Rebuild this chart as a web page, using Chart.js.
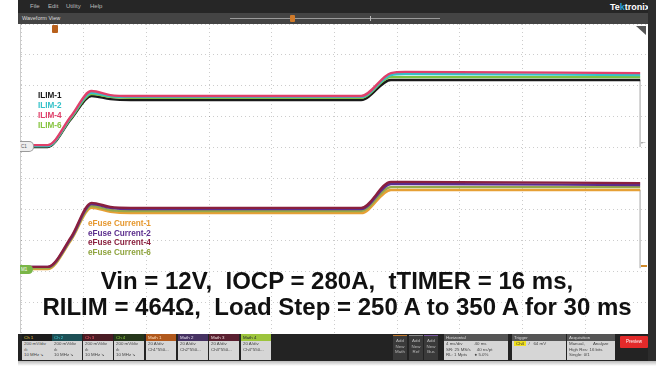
<!DOCTYPE html>
<html>
<head>
<meta charset="utf-8">
<script src="https://cdn.jsdelivr.net/npm/chart.js@4"></script>
<style>
  body { margin:0; width:656px; height:366px; background:#fff; position:relative; overflow:hidden;
         font-family:"Liberation Sans", Arial, sans-serif; }
  .abs { position:absolute; }
  #menubar { left:18px; top:0; width:638px; height:13px; background:#262626; color:#bbb; font-size:6px; }
  #menubar span { position:absolute; top:3px; }
  #wfbar { left:18px; top:13px; width:630px; height:11px; background:#444; color:#ddd; font-size:5.5px; }
  #plotbox { left:20px; top:24px; width:628px; height:309px; background:#fff; border-left:1px solid #ccc; box-sizing:border-box; }
  #rightbar { left:648px; top:0; width:8px; height:362px; background:#2c2c2c; }
  #status { left:18px; top:334px; width:630px; height:27px; background:#232323; }
  #shadow { left:18px; top:361px; width:638px; height:5px; background:linear-gradient(#bbb,#fff); }
  .lbl { position:absolute; font-weight:bold; font-size:8.2px; white-space:nowrap; line-height:9px; }
  #note { left:0; width:674px; top:268px; text-align:center; font-weight:bold; font-size:24px;
          line-height:25.5px; color:#111; white-space:pre; }
  .box { position:absolute; top:334px; height:26px; width:30px; font-size:4.4px; }
  .box .hd { height:7px; line-height:7px; padding-left:2px; }
  .box .bd { height:19px; background:#d6d6d6; color:#444; padding-left:2px; line-height:5.5px; }
</style>
</head>
<body>
<div id="menubar" class="abs">
  <span style="left:12px">File</span><span style="left:30px">Edit</span>
  <span style="left:48px">Utility</span><span style="left:72px">Help</span>
  <span style="left:592px;top:2px;font-size:9px;font-weight:bold;color:#fff">Te<span style="position:static;color:#2aa3d8">k</span>tronix</span>
</div>
<div id="wfbar" class="abs">
  <span style="position:absolute;left:4px;top:2px">Waveform View</span>
  <div class="abs" style="left:212px;top:5px;width:210px;height:1px;background:#9a9a9a"></div>
  <div class="abs" style="left:272px;top:2px;width:5px;height:7px;background:#d07a2a;border-radius:1px"></div>
  <div class="abs" style="left:352px;top:3px;width:1px;height:5px;background:#bbb"></div>
</div>
<div id="rightbar" class="abs"></div>
<div id="plotbox" class="abs"><canvas id="scope" width="627" height="309"></canvas></div>

<!-- markers on the plot -->
<div class="abs" style="left:52px;top:25px;width:6px;height:8px;background:#b8601c;border-radius:1px"></div>
<div class="abs" style="left:636px;top:26px;width:0;height:0;border-left:10px solid transparent;border-top:9px solid #555"></div>
<div class="abs" style="left:20px;top:141px;width:12px;height:9px;background:#eee;border:1px solid #9a9a9a;border-left:none;border-radius:0 5px 5px 0;font-size:4.5px;line-height:9px;color:#555;padding-left:1px">C1</div>
<div class="abs" style="left:20px;top:265px;width:12px;height:9px;background:#7ab648;border-radius:0 5px 5px 0;font-size:4.5px;line-height:9px;color:#fff;padding-left:1px">M1</div>
<div class="abs" style="left:640px;top:138px;font-size:7px;color:#333">&#8592;</div>
<div class="abs" style="left:641px;top:265px;width:6px;height:2px;background:#d08a2a"></div>

<div class="lbl" style="left:38px;top:91px;color:#1a1a1a">ILIM-1</div>
<div class="lbl" style="left:38px;top:101px;color:#35c2c9">ILIM-2</div>
<div class="lbl" style="left:38px;top:111px;color:#e0406a">ILIM-4</div>
<div class="lbl" style="left:38px;top:121px;color:#86c440">ILIM-6</div>

<div class="lbl" style="left:88px;top:219px;color:#e6982e">eFuse Current-1</div>
<div class="lbl" style="left:88px;top:229px;color:#5b2e8e">eFuse Current-2</div>
<div class="lbl" style="left:88px;top:238px;color:#8a1f3e">eFuse Current-4</div>
<div class="lbl" style="left:88px;top:248px;color:#8fa43e">eFuse Current-6</div>

<div id="note" class="abs">Vin = 12V,  IOCP = 280A,  tTIMER = 16 ms,
RILIM = 464Ω,  Load Step = 250 A to 350 A for 30 ms</div>

<div id="status" class="abs"></div>
<div id="shadow" class="abs"></div>
<div id="boxes"></div>

<script>
// time axis in ms (4 ms/div, 10 div), vertical in divisions from the bottom of the screen
const timeMs = [0, 1.7, 3.2, 4.5, 5.7, 7.0, 21.7, 23.6, 24.5, 39.5];

// ILIM traces (top group)
const ilim1 = [6.02, 6.02, 6.93, 7.67, 7.57, 7.54, 7.54, 8.19, 8.19, 8.19];
const ilim2 = [6.05, 6.05, 6.99, 7.77, 7.67, 7.64, 7.64, 8.35, 8.38, 8.35];
const ilim4 = [6.08, 6.08, 7.02, 7.83, 7.70, 7.67, 7.67, 8.41, 8.45, 8.41];
const ilim6 = [6.05, 6.05, 6.96, 7.73, 7.64, 7.61, 7.61, 8.28, 8.28, 8.28];

// eFuse current traces (bottom group)
const efuse1 = [2.07, 2.07, 3.01, 4.05, 3.92, 3.88, 3.88, 4.63, 4.63, 4.63];
const efuse2 = [2.14, 2.14, 3.07, 4.17, 4.05, 4.01, 4.01, 4.82, 4.82, 4.79];
const efuse4 = [2.14, 2.14, 3.11, 4.21, 4.08, 4.05, 4.05, 4.89, 4.89, 4.85];
const efuse6 = [2.10, 2.10, 3.04, 4.11, 3.98, 3.95, 3.95, 4.72, 4.72, 4.72];

// end of record, traces fall back to their offsets
const endTime = [39.5, 39.5];
const topDrop = [8.19, 6.02];
const bottomDrop = [4.63, 2.10];

const pts = (ys, xs = timeMs) => ys.map((y, i) => ({ x: xs[i], y: y }));

function trace(label, ys, color) {
    return {
        label: label,
        data: pts(ys),
        borderColor: color,
        borderWidth: 2.4,
        pointRadius: 0,
        cubicInterpolationMode: 'monotone'
    };
}

const ctx = document.getElementById('scope').getContext('2d');
new Chart(ctx, {
    type: 'line',
    data: {
        datasets: [
            trace('ILIM-4', ilim4, '#e0406a'),
            trace('ILIM-2', ilim2, '#35c2c9'),
            trace('ILIM-6', ilim6, '#7cc242'),
            trace('ILIM-1', ilim1, '#1a1a1a'),
            trace('eFuse Current-4', efuse4, '#8a1f3e'),
            trace('eFuse Current-2', efuse2, '#5b2e8e'),
            trace('eFuse Current-6', efuse6, '#97a84a'),
            trace('eFuse Current-1', efuse1, '#e6a035'),
            { label: 'end1', data: pts(topDrop, endTime), borderColor: '#c8c8c8', borderWidth: 1, pointRadius: 0 },
            { label: 'end2', data: pts(bottomDrop, endTime), borderColor: '#c8c8c8', borderWidth: 1, pointRadius: 0 }
        ]
    },
    options: {
        responsive: false,
        animation: false,
        devicePixelRatio: 1,
        layout: { padding: 0 },
        plugins: { legend: { display: false }, tooltip: { enabled: false } },
        scales: {
            x: {
                type: 'linear', min: 0, max: 40,
                ticks: { display: false, stepSize: 4 },
                grid: { color: 'rgba(0,0,0,0.2)', drawTicks: false },
                border: { display: false, dash: [1, 3] }
            },
            y: {
                min: 0, max: 10,
                ticks: { display: false, stepSize: 1 },
                grid: { color: 'rgba(0,0,0,0.2)', drawTicks: false },
                border: { display: false, dash: [1, 3] }
            }
        }
    }
});

// bottom status bar badges
const chanBoxes = [
    ['Ch 1', '#1c1c1c', '#e8d040', ['200 mV/div', 'ılı', '10 MHz  ↘']],
    ['Ch 2', '#1d4f55', '#40d0d8', ['200 mV/div', 'ılı', '10 MHz  ↘']],
    ['Ch 3', '#4a1c24', '#ff6070', ['200 mV/div', 'ılı', '10 MHz  ↘']],
    ['Ch 4', '#26361a', '#90d040', ['200 mV/div', 'ılı', '10 MHz  ↘']],
    ['Math 1', '#b0581c', '#ffe0c0', ['20 A/div', 'Ch1*550...', '']],
    ['Math 2', '#463262', '#e8e0f0', ['20 A/div', 'Ch2*550...', '']],
    ['Math 3', '#5a2030', '#f0e0e0', ['20 A/div', 'Ch3*550...', '']],
    ['Math 4', '#9cc43c', '#223', ['20 A/div', 'Ch4*550...', '']]
];
const chanLeft = [22, 52, 83, 114, 146, 178, 209, 241];
const boxes = document.getElementById('boxes');
chanBoxes.forEach((b, i) => {
    const d = document.createElement('div');
    d.className = 'box';
    d.style.left = chanLeft[i] + 'px';
    d.innerHTML = '<div class="hd" style="background:' + b[1] + ';color:' + b[2] + '">' + b[0] + '</div>' +
        '<div class="bd">' + b[3].join('<br>') + '</div>';
    boxes.appendChild(d);
});

const addBoxes = [['Math', '#c07a30', 393], ['Ref', '#888', 409], ['Bus', '#7a5aa0', 424]];
addBoxes.forEach(a => {
    const d = document.createElement('div');
    d.className = 'abs';
    d.style.cssText = 'left:' + a[2] + 'px;top:335px;width:14px;height:25px;background:#3a3a3a;border-top:1px solid ' + a[1] +
        ';color:#bbb;font-size:4.4px;line-height:5.5px;text-align:center;padding-top:2px;box-sizing:border-box';
    d.innerHTML = 'Add<br>New<br>' + a[0];
    boxes.appendChild(d);
});

const infoBoxes = [
    ['Horizontal', 444, 64, '4 ms/div &nbsp;&nbsp;&nbsp;&nbsp;&nbsp;&nbsp;&nbsp;&nbsp; 40 ms<br>SR: 25 MS/s &nbsp;&nbsp;&nbsp; 40 ns/pt<br>RL: 1 Mpts &nbsp;&nbsp;&nbsp;&nbsp; ● 5.0%'],
    ['Trigger', 512, 54, '<span style="background:#f0e020;color:#333;padding:0 2px">Ch4</span> &nbsp;/ &nbsp;&nbsp;64 mV'],
    ['Acquisition', 567, 48, 'Manual, &nbsp;&nbsp;&nbsp;&nbsp;&nbsp; Analyze<br>High Res: 16 bits<br>Single: 0/1']
];
infoBoxes.forEach(b => {
    const d = document.createElement('div');
    d.className = 'box';
    d.style.left = b[1] + 'px';
    d.style.width = b[2] + 'px';
    d.innerHTML = '<div class="hd" style="background:#555;color:#ddd">' + b[0] + '</div><div class="bd">' + b[3] + '</div>';
    boxes.appendChild(d);
});

const prev = document.createElement('div');
prev.className = 'abs';
prev.style.cssText = 'left:620px;top:336px;width:28px;height:12px;background:#e32a2a;color:#fff;font-size:4.5px;line-height:12px;text-align:center;border-radius:1px';
prev.textContent = 'Preview';
boxes.appendChild(prev);
</script>
</body>
</html>
